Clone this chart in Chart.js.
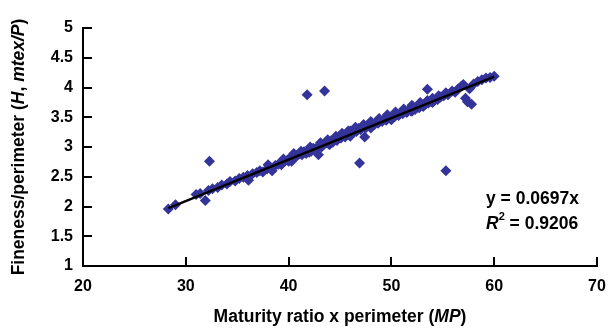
<!DOCTYPE html>
<html>
<head>
<meta charset="utf-8">
<script src="https://cdn.jsdelivr.net/npm/chart.js@4.4.1/dist/chart.umd.min.js"></script>
<style>
  html, body { margin: 0; padding: 0; background: #fff; }
  #wrap { width: 608px; height: 329px; position: relative; }
</style>
</head>
<body>
<div id="wrap"><canvas id="grafico"></canvas></div>
<script>
// Maturity ratio x perimeter (MP)
const mpValues = [
  28.3, 29.0, 31.0, 31.4, 31.9, 32.2, 32.6, 33.1, 33.5, 34.0,
  34.3, 34.8, 35.2, 35.6, 36.0, 36.1, 36.5, 36.9, 37.2, 37.5,
  37.9, 38.2, 38.4, 38.7, 39.0, 39.3, 39.6, 39.9, 40.1, 40.3,
  40.6, 40.8, 41.0, 41.3, 41.5, 41.7, 42.0, 42.2, 42.4, 42.6,
  42.9, 43.0, 43.2, 43.4, 43.7, 43.9, 44.1, 44.3, 44.5, 44.7,
  44.9, 45.1, 45.3, 45.5, 45.7, 45.9, 46.0, 46.2, 46.4, 46.6,
  46.8, 47.0, 47.2, 47.4, 47.5, 47.7, 47.9, 48.1, 48.3, 48.5,
  48.7, 48.9, 49.1, 49.3, 49.5, 49.7, 49.9, 50.1, 50.3, 50.5,
  50.7, 50.9, 51.1, 51.3, 51.5, 51.7, 51.9, 52.1, 52.3, 52.5,
  52.7, 52.9, 53.1, 53.3, 53.6, 53.9, 54.2, 54.5, 54.8, 55.1,
  55.5, 55.9, 56.2, 56.5, 56.8, 57.0, 57.2, 57.4, 57.8, 57.6,
  58.0, 58.4, 58.8, 59.2, 59.6, 60.0,
  // parte de cima e de baixo da faixa
  38.0, 39.5, 40.5, 41.2, 42.1, 43.1, 43.8, 44.6, 45.2, 45.8,
  46.5, 47.3, 48.0, 48.8, 49.6, 50.4, 51.2, 52.0, 52.8, 53.5,
  54.0, 54.6, 55.3,
  40.0, 42.0, 44.0, 46.0, 48.0, 50.0, 52.0, 54.0,
  // pontos fora da nuvem
  32.3, 41.8, 43.5, 46.9, 53.5, 55.3
];

// Fineness/perimeter (H, mtex/P)
const hpValues = [
  1.96, 2.03, 2.20, 2.22, 2.10, 2.27, 2.30, 2.32, 2.36, 2.38,
  2.42, 2.43, 2.47, 2.49, 2.52, 2.44, 2.55, 2.57, 2.60, 2.58,
  2.63, 2.66, 2.60, 2.69, 2.71, 2.70, 2.76, 2.78, 2.81, 2.76,
  2.84, 2.85, 2.88, 2.87, 2.92, 2.89, 2.95, 2.93, 2.98, 2.97,
  2.87, 3.02, 3.00, 3.04, 3.07, 3.05, 3.10, 3.08, 3.13, 3.11,
  3.16, 3.15, 3.19, 3.17, 3.22, 3.20, 3.27, 3.24, 3.28, 3.26,
  3.31, 3.29, 3.34, 3.17, 3.32, 3.36, 3.35, 3.39, 3.37, 3.42,
  3.40, 3.44, 3.43, 3.47, 3.45, 3.50, 3.48, 3.52, 3.51, 3.55,
  3.53, 3.57, 3.56, 3.60, 3.58, 3.62, 3.61, 3.65, 3.63, 3.67,
  3.66, 3.70, 3.68, 3.72, 3.74, 3.76, 3.78, 3.80, 3.84, 3.86,
  3.88, 3.94, 3.92, 3.98, 4.02, 4.05, 3.82, 3.76, 3.72, 3.98,
  4.06, 4.10, 4.13, 4.16, 4.17, 4.19,
  2.70, 2.80, 2.89, 2.93, 3.00, 3.07, 3.12, 3.18, 3.23, 3.27,
  3.33, 3.38, 3.43, 3.48, 3.54, 3.59, 3.64, 3.70, 3.75, 3.78,
  3.82, 3.86, 3.91,
  2.76, 2.91, 3.04, 3.18, 3.32, 3.46, 3.60, 3.75,
  2.76, 3.88, 3.94, 2.73, 3.97, 2.60
];

// Linha de tendência (regressão pela origem)
const trendSlope = 0.0697;
const trendR2 = 0.9206;
const trendRange = [28.3, 60.0];

const xTicks = { min: 20, max: 70, step: 10 };
const yTicks = { min: 1, max: 5, step: 0.5 };

const FONTE = "'Liberation Sans', Arial, sans-serif";

// Desenha um texto com trechos de estilos diferentes, centralizado em x
function desenhaTrechos(ctx, trechos, x, y, size) {
    let largura = 0;
    trechos.forEach(t => {
        ctx.font = `${t.italic ? 'italic ' : ''}bold ${size}px ${FONTE}`;
        largura += ctx.measureText(t.text).width;
    });
    let cx = x - largura / 2;
    trechos.forEach(t => {
        ctx.font = `${t.italic ? 'italic ' : ''}bold ${size}px ${FONTE}`;
        ctx.fillText(t.text, cx, y);
        cx += ctx.measureText(t.text).width;
    });
}

const pluginExtras = {
    id: 'extras',
    afterDraw(chart) {
        const { ctx, chartArea, scales } = chart;
        ctx.save();
        // marcas internas dos eixos
        ctx.strokeStyle = '#000';
        ctx.lineWidth = 2;
        scales.x.ticks.forEach(t => {
            const px = Math.round(scales.x.getPixelForValue(t.value));
            ctx.beginPath();
            ctx.moveTo(px, chartArea.bottom);
            ctx.lineTo(px, chartArea.bottom - 9);
            ctx.stroke();
        });
        scales.y.ticks.forEach(t => {
            const py = Math.round(scales.y.getPixelForValue(t.value));
            ctx.beginPath();
            ctx.moveTo(chartArea.left, py);
            ctx.lineTo(chartArea.left + 9, py);
            ctx.stroke();
        });

        ctx.fillStyle = '#000';
        ctx.textBaseline = 'alphabetic';
        ctx.textAlign = 'left';

        // título eixo x
        desenhaTrechos(ctx, [
            { text: 'Maturity ratio x perimeter (' },
            { text: 'MP', italic: true },
            { text: ')' }
        ], (chartArea.left + chartArea.right) / 2, 322, 17.5);

        // título eixo y
        ctx.save();
        ctx.translate(24, (chartArea.top + chartArea.bottom) / 2);
        ctx.rotate(-Math.PI / 2);
        desenhaTrechos(ctx, [
            { text: 'Fineness/perimeter (' },
            { text: 'H', italic: true },
            { text: ', ' },
            { text: 'mtex/P', italic: true },
            { text: ')' }
        ], 0, 0, 17.5);
        ctx.restore();

        // equação
        ctx.font = `bold 17.5px ${FONTE}`;
        ctx.fillText(`y = ${trendSlope}x`, 486, 204);
        let x0 = 486;
        ctx.font = `italic bold 17.5px ${FONTE}`;
        ctx.fillText('R', x0, 229);
        x0 += ctx.measureText('R').width;
        ctx.font = `bold 11px ${FONTE}`;
        ctx.fillText('2', x0, 220);
        x0 += ctx.measureText('2').width;
        ctx.font = `bold 17.5px ${FONTE}`;
        ctx.fillText(` = ${trendR2}`, x0, 229);
        ctx.restore();
    }
};

const pontos = mpValues.map((x, i) => ({ x: x, y: hpValues[i] }));
const linha = trendRange.map(x => ({ x: x, y: trendSlope * x }));

new Chart(document.getElementById('grafico'), {
    type: 'scatter',
    data: {
        datasets: [{
            label: 'Tendência',
            data: linha,
            showLine: true,
            borderColor: '#000',
            borderWidth: 2.5,
            pointRadius: 0
        }, {
            label: 'H/P',
            data: pontos,
            pointStyle: 'rectRot',
            pointRadius: 5.5,
            pointHoverRadius: 5.5,
            backgroundColor: '#333399',
            borderColor: '#333399',
            borderWidth: 0
        }]
    },
    options: {
        responsive: true,
        maintainAspectRatio: false,
        animation: false,
        plugins: {
            legend: { display: false },
            tooltip: { enabled: false }
        },
        layout: {
            padding: { left: 0, right: 11, top: 28, bottom: 0 }
        },
        scales: {
            x: {
                type: 'linear',
                min: xTicks.min,
                max: xTicks.max,
                afterFit: (scale) => {
                    scale.height = 63;
                    scale.paddingLeft = 0;
                    scale.paddingRight = 0;
                },
                grid: { display: true, drawOnChartArea: false, drawTicks: false },
                border: { display: true, color: '#000', width: 2 },
                ticks: {
                    stepSize: xTicks.step,
                    color: '#000',
                    padding: 11,
                    maxRotation: 0,
                    font: { family: FONTE, weight: 'bold', size: 16 }
                }
            },
            y: {
                type: 'linear',
                min: yTicks.min,
                max: yTicks.max,
                afterFit: (scale) => {
                    scale.width = 83;
                    scale.paddingTop = 0;
                    scale.paddingBottom = 0;
                },
                grid: { display: true, drawOnChartArea: false, drawTicks: false },
                border: { display: true, color: '#000', width: 2 },
                ticks: {
                    stepSize: yTicks.step,
                    color: '#000',
                    padding: 10,
                    callback: (v) => String(v),
                    font: { family: FONTE, weight: 'bold', size: 16 }
                }
            }
        }
    },
    plugins: [pluginExtras]
});
</script>
</body>
</html>
